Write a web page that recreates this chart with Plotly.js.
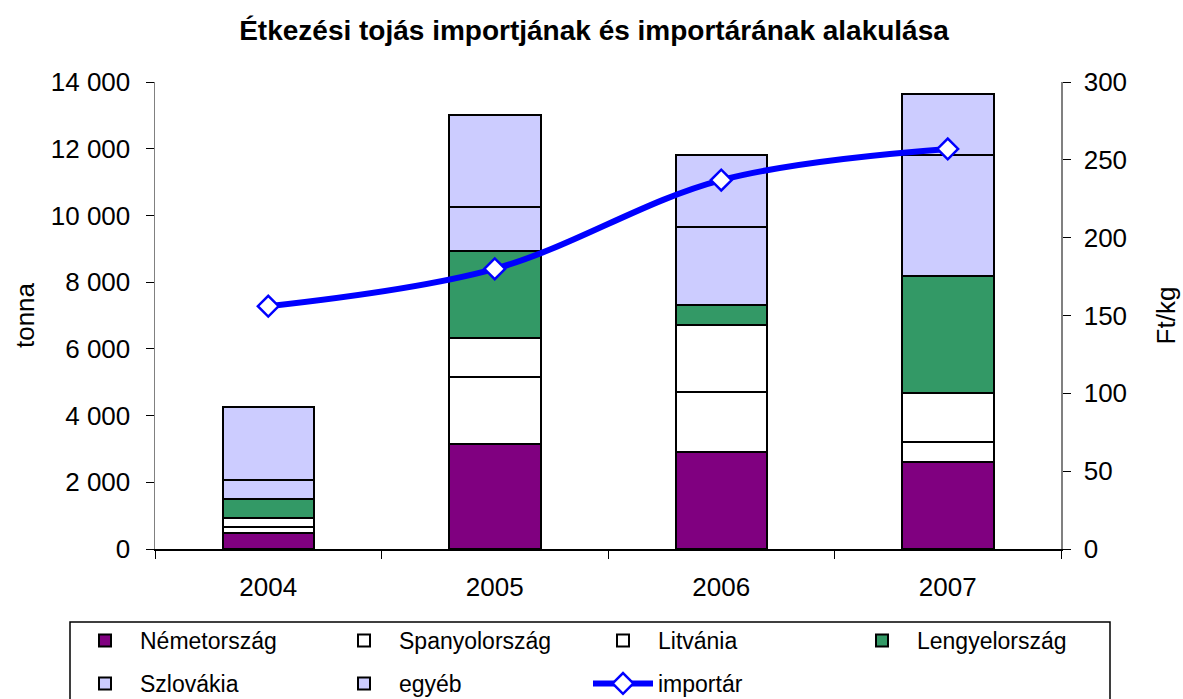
<!DOCTYPE html>
<html><head><meta charset="utf-8">
<script src="https://cdn.plot.ly/plotly-3.0.1.min.js"></script>
<style>html,body{margin:0;padding:0;background:#fff}#chart{width:1183px;height:699px}</style>
</head><body><div id="chart"></div>
<script>
// ---- data ----
const years = ['2004', '2005', '2006', '2007'];
const nemetorszag   = [470, 3140, 2900, 2620];
const spanyolorszag = [200, 2030, 1820, 600];
const litvania      = [250, 1150, 2000, 1450];
const lengyelorszag = [570, 2600, 580, 3520];
const szlovakia     = [580, 1330, 2340, 3630];
const egyeb         = [2180, 2770, 2180, 1820];
const importar      = [156, 180, 237, 257];
const seriesNames = ['Németország', 'Spanyolország', 'Litvánia', 'Lengyelország', 'Szlovákia', 'egyéb', 'importár'];

// ---- geometry helpers (plot area in px) ----
const W = 1183, H = 699, L = 155, R = 1061, T = 82, B = 549;
const px2x = p => (p - L) / (R - L);
const px2y = p => (B - p) / (B - T);

const FONT = 'Liberation Sans, Arial, sans-serif';
const barColors = ['#800080', '#FFFFFF', '#FFFFFF', '#339966', '#CCCCFF', '#CCCCFF'];
const barData = [nemetorszag, spanyolorszag, litvania, lengyelorszag, szlovakia, egyeb];

const traces = barData.map((vals, i) => ({
  type: 'bar', name: seriesNames[i], x: years, y: vals,
  marker: {color: barColors[i], line: {color: '#000000', width: 2}},
  legend: i < 4 ? 'legend' : 'legend2'
}));
traces.push({
  type: 'scatter', mode: 'lines+markers', name: seriesNames[6], x: years, y: importar,
  yaxis: 'y2', legend: 'legend2',
  line: {color: '#0000FF', width: 6, shape: 'spline', smoothing: 1},
  marker: {symbol: 'diamond', size: 16, color: '#FFFFFF', line: {color: '#0000FF', width: 2.5}}
});

const legendCommon = {
  orientation: 'h', xanchor: 'left', yanchor: 'top', traceorder: 'normal',
  bgcolor: 'rgba(0,0,0,0)', borderwidth: 0,
  font: {family: FONT, size: 23, color: '#000'},
  itemwidth: 60, entrywidth: 184, entrywidthmode: 'pixels'
};

const layout = {
  width: W, height: H,
  margin: {l: L, r: W - R, t: T, b: H - B, pad: 0, autoexpand: false},
  paper_bgcolor: '#FFFFFF', plot_bgcolor: '#FFFFFF',
  separators: ', ',
  barmode: 'stack', bargap: 0.596,
  font: {family: FONT, size: 26, color: '#000'},
  title: {text: '<b>Étkezési tojás importjának és importárának alakulása</b>',
          font: {family: FONT, size: 28, color: '#000'},
          xref: 'container', yref: 'container', x: 594 / W, y: 1 - 30 / H,
          xanchor: 'center', yanchor: 'middle'},
  xaxis: {type: 'category', showgrid: false, zeroline: false,
          showline: true, linecolor: '#000', linewidth: 1.5, mirror: false,
          ticks: 'outside', tickson: 'boundaries', ticklen: 8, tickcolor: '#000', tickwidth: 1,
          ticklabelstandoff: 14,
          tickfont: {family: FONT, size: 26, color: '#000'}},
  yaxis: {range: [0, 14000], dtick: 2000, tickformat: ',d', showgrid: false, zeroline: false,
          showline: true, linecolor: '#808080', linewidth: 1.5,
          ticks: 'outside', ticklen: 8, tickcolor: '#000', tickwidth: 1,
          ticklabelstandoff: 10,
          tickfont: {family: FONT, size: 26, color: '#000'},
          title: {text: 'tonna', font: {family: FONT, size: 26, color: '#000'}, standoff: 8}},
  yaxis2: {range: [0, 300], dtick: 50, overlaying: 'y', side: 'right', showgrid: false, zeroline: false,
           showline: true, linecolor: '#808080', linewidth: 1.5,
           ticks: 'outside', ticklen: 8, tickcolor: '#000', tickwidth: 1,
           ticklabelstandoff: 8,
           tickfont: {family: FONT, size: 26, color: '#000'},
           title: {text: 'Ft/kg', font: {family: FONT, size: 26, color: '#000'}, standoff: 30}},
  legend: Object.assign({}, legendCommon, {x: px2x(70), y: px2y(619)}),
  legend2: Object.assign({}, legendCommon, {x: px2x(70), y: px2y(662)}),
  shapes: [{type: 'rect', xref: 'paper', yref: 'paper', layer: 'below',
            x0: px2x(70), x1: px2x(1110), y0: px2y(622), y1: px2y(712),
            line: {color: '#000', width: 1.5}, fillcolor: 'rgba(0,0,0,0)'}],
  showlegend: true
};

Plotly.newPlot('chart', traces, layout, {displayModeBar: false, staticPlot: true});
</script>
</body></html>
